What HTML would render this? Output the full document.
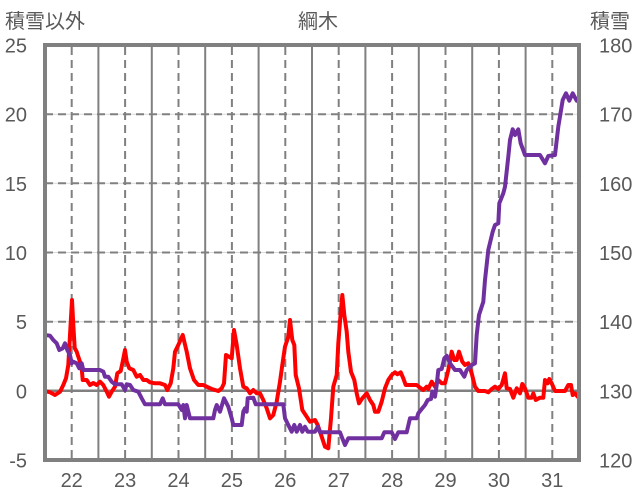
<!DOCTYPE html>
<html><head><meta charset="utf-8"><style>
html,body{margin:0;padding:0;background:#fff;}
svg{display:block;}
text{font-family:"Liberation Sans","Noto Sans CJK JP",sans-serif;fill:#595959;font-size:20px;}
</style></head><body>
<svg width="636" height="501" viewBox="0 0 636 501" xmlns="http://www.w3.org/2000/svg">
<rect x="0" y="0" width="636" height="501" fill="#fff"/>
<!-- horizontal grid -->
<g stroke="#d9d9d9" stroke-width="1">
<line x1="45" y1="114.2" x2="579" y2="114.2"/>
<line x1="45" y1="183.3" x2="579" y2="183.3"/>
<line x1="45" y1="252.5" x2="579" y2="252.5"/>
<line x1="45" y1="321.7" x2="579" y2="321.7"/>
</g>
<g stroke="#808080" stroke-width="2" stroke-dasharray="8,5">
<line x1="45" y1="114.2" x2="579" y2="114.2"/>
<line x1="45" y1="183.3" x2="579" y2="183.3"/>
<line x1="45" y1="252.5" x2="579" y2="252.5"/>
<line x1="45" y1="321.7" x2="579" y2="321.7"/>
</g>
<!-- vertical solid -->
<g stroke="#808080" stroke-width="2">
<line x1="98.4" y1="45" x2="98.4" y2="460"/>
<line x1="151.8" y1="45" x2="151.8" y2="460"/>
<line x1="205.2" y1="45" x2="205.2" y2="460"/>
<line x1="258.6" y1="45" x2="258.6" y2="460"/>
<line x1="312" y1="45" x2="312" y2="460"/>
<line x1="365.4" y1="45" x2="365.4" y2="460"/>
<line x1="418.8" y1="45" x2="418.8" y2="460"/>
<line x1="472.2" y1="45" x2="472.2" y2="460"/>
<line x1="525.6" y1="45" x2="525.6" y2="460"/>
</g>
<g stroke="#808080" stroke-width="2" stroke-dasharray="8,5">
<line x1="71.7" y1="47" x2="71.7" y2="460"/>
<line x1="125.1" y1="47" x2="125.1" y2="460"/>
<line x1="178.5" y1="47" x2="178.5" y2="460"/>
<line x1="231.9" y1="47" x2="231.9" y2="460"/>
<line x1="285.3" y1="47" x2="285.3" y2="460"/>
<line x1="338.7" y1="47" x2="338.7" y2="460"/>
<line x1="392.1" y1="47" x2="392.1" y2="460"/>
<line x1="445.5" y1="47" x2="445.5" y2="460"/>
<line x1="498.9" y1="47" x2="498.9" y2="460"/>
<line x1="552.3" y1="47" x2="552.3" y2="460"/>
</g>
<!-- zero line -->
<line x1="45" y1="390.8" x2="579" y2="390.8" stroke="#808080" stroke-width="2.5"/>
<!-- red series -->
<polyline fill="none" stroke="#ff0000" stroke-width="4" stroke-linejoin="round" stroke-linecap="round" points="45,391 50,392.3 55,395 60,391.7 63.3,385 66,378.3 68.3,365 70,335 72,300 73.3,325 74.7,348 76.7,351.7 78.3,356.7 80,361.7 81.7,368 82.7,380 86.7,380 90,385 93.3,383 96.7,385 100,381.7 103.3,385 106.7,391.7 109,396.7 111.7,391.7 115,386.7 117.3,373.3 120.7,371 122.7,361.7 125,350 126.7,361.7 129.3,368.3 133.3,370 136.7,376.7 140,375 143.3,380 146.7,380 150,382.3 155,383.3 160,383.3 165,385 167.3,390 170.7,383.3 173.3,368.3 175,351.7 178.3,345 182.7,335 186.7,351.7 190,368.3 194,380 198.3,385 203.3,385 206.7,386.7 211.7,389 218.3,391 221.7,388.3 224,383.3 226,355 229,356.7 231.7,358.3 234,330 236.7,345 240,368.3 243.3,386.7 246.7,388.3 250,393.3 253.3,390 256.7,393.3 260,393.3 263.3,400 266.7,408.3 270,418.3 273.3,415 276.7,401.7 280,381.7 282.3,365 285,346.7 288.3,336.7 290,320 292.3,340 294.3,345 295.7,375 299,388.3 302.3,410 306.7,416.7 310,421.7 315,420 317.7,425 321.7,436.7 325,446.7 328.3,448.3 331,418.3 333.3,386.7 336.7,375 338.3,343.3 340,321.7 342.3,295 344.3,315 346.7,331.7 348.3,351.7 351,371.7 354.3,380 356.7,393.3 359,403.3 362.3,398.3 366.7,393.3 370,400 373.3,405 375,411.7 378.3,411.7 381.7,401.7 385,388.3 388.3,380 391.7,375 395,372.3 397.3,374.3 400.7,372.3 403.3,378.3 405.7,385 416.7,385 420,387.7 423.3,390 426.7,386.7 428.3,389 431.7,381.7 435,386.7 438.3,380 441.7,383.3 445,383.3 448.3,370 451.7,351.7 454.3,360 456.7,360 459,351.7 462.3,361.7 465,365 468.3,363.3 471.7,373.3 475,386.7 478.3,391 485,391 488.3,392.3 491.7,389 495,386.7 498.3,389 501.7,385 505,373.3 506.7,388.3 510,389 513.3,397.7 516.7,388.3 520,393.3 522.3,384 525,388.3 528.3,397.7 531.7,397.7 533.3,393.3 535.7,400 540,397.7 543.3,397.7 545,380 547.7,383.3 549.3,379 551.7,383.3 555,391 565,391 568.3,385 571,385 572.7,395 575,393.3 577.7,396.7"/>
<!-- purple series -->
<polyline fill="none" stroke="#7030a0" stroke-width="4" stroke-linejoin="round" stroke-linecap="round" points="45,335 50,335.7 53.3,340 56.7,343.3 59.3,350 62.7,348.3 65,343.3 67.3,350 70,355 71.7,363.3 73.3,361.7 76.7,363.3 79.3,368.3 81.7,363.3 83.3,370 100,370 103.3,371.7 105,376.7 108.3,376.7 111.7,381.7 115,384.3 121.7,384.3 125,390 126.7,384.3 130,385 133.3,390 138.3,391.7 141.7,398.3 145,404.3 160,404.3 162.7,398.3 165,404.3 178.3,404.3 181.7,410 183.3,405 185,418.3 186.7,405 190,418.3 213.3,418.3 215,410 216.7,405 220,411.7 224,398.3 228.3,406.7 231.7,418.3 233.3,425 241.7,425 243.3,411.7 245,408.3 246.7,411.7 247.7,398.3 253.3,397.7 255.7,404.3 283.3,404.3 285,418.3 288.3,425 291.7,431.7 294.3,425 296.7,431.7 300,425 302.3,431.7 305,426.7 307.7,431.7 315,431.7 317.7,426.7 320,432.3 340,432.3 342.3,438.3 345,445 348.3,438.3 381.7,438.3 384.3,432.3 391.7,432.3 395,439 398.3,432.3 406.7,432.3 410,418.3 416.7,418.3 418.3,413.3 421.7,409 425,405 427.7,400 431,399 432.3,391.7 435,396.7 436.7,385 438.3,370 441.7,369 444.3,358.3 446.7,355.7 450,363.3 455,370 460,370 464.3,376.7 466.7,370 471.7,365 475,363.3 476.7,335 479,315 483.3,301.7 485,280 488.3,250 492.7,231.7 495,225 498.3,223.3 499.3,203.3 503.3,193.3 505,186.7 508.3,156.7 510,140 512.7,129.3 515,135 518.3,129.3 520.7,143.3 525,155 540,155 545,163.3 548.3,156 555,155 558.3,126.7 562.7,100 566,93.3 569.3,100.7 572.7,93.3 576.7,100.7"/>
<!-- frame -->
<rect x="45" y="45" width="534" height="415" fill="none" stroke="#808080" stroke-width="4"/>
<!-- left tick labels -->
<g text-anchor="end">
<text x="27" y="52.5">25</text>
<text x="27" y="121.7">20</text>
<text x="27" y="190.8">15</text>
<text x="27" y="260">10</text>
<text x="27" y="329.2">5</text>
<text x="27" y="398.3">0</text>
<text x="27" y="467.3">-5</text>
</g>
<!-- right tick labels -->
<g text-anchor="start">
<text x="599" y="52.5">180</text>
<text x="599" y="121.7">170</text>
<text x="599" y="190.8">160</text>
<text x="599" y="260">150</text>
<text x="599" y="329.2">140</text>
<text x="599" y="398.3">130</text>
<text x="599" y="467.3">120</text>
</g>
<!-- x labels -->
<g text-anchor="middle">
<text x="71.7" y="487">22</text>
<text x="125.1" y="487">23</text>
<text x="178.5" y="487">24</text>
<text x="231.9" y="487">25</text>
<text x="285.3" y="487">26</text>
<text x="338.7" y="487">27</text>
<text x="392.1" y="487">28</text>
<text x="445.5" y="487">29</text>
<text x="498.9" y="487">30</text>
<text x="552.3" y="487">31</text>
</g>
<text x="5" y="28">積雪以外</text>
<text x="318" y="28" text-anchor="middle">綱木</text>
<text x="590" y="28">積雪</text>
</svg>
</body></html>
